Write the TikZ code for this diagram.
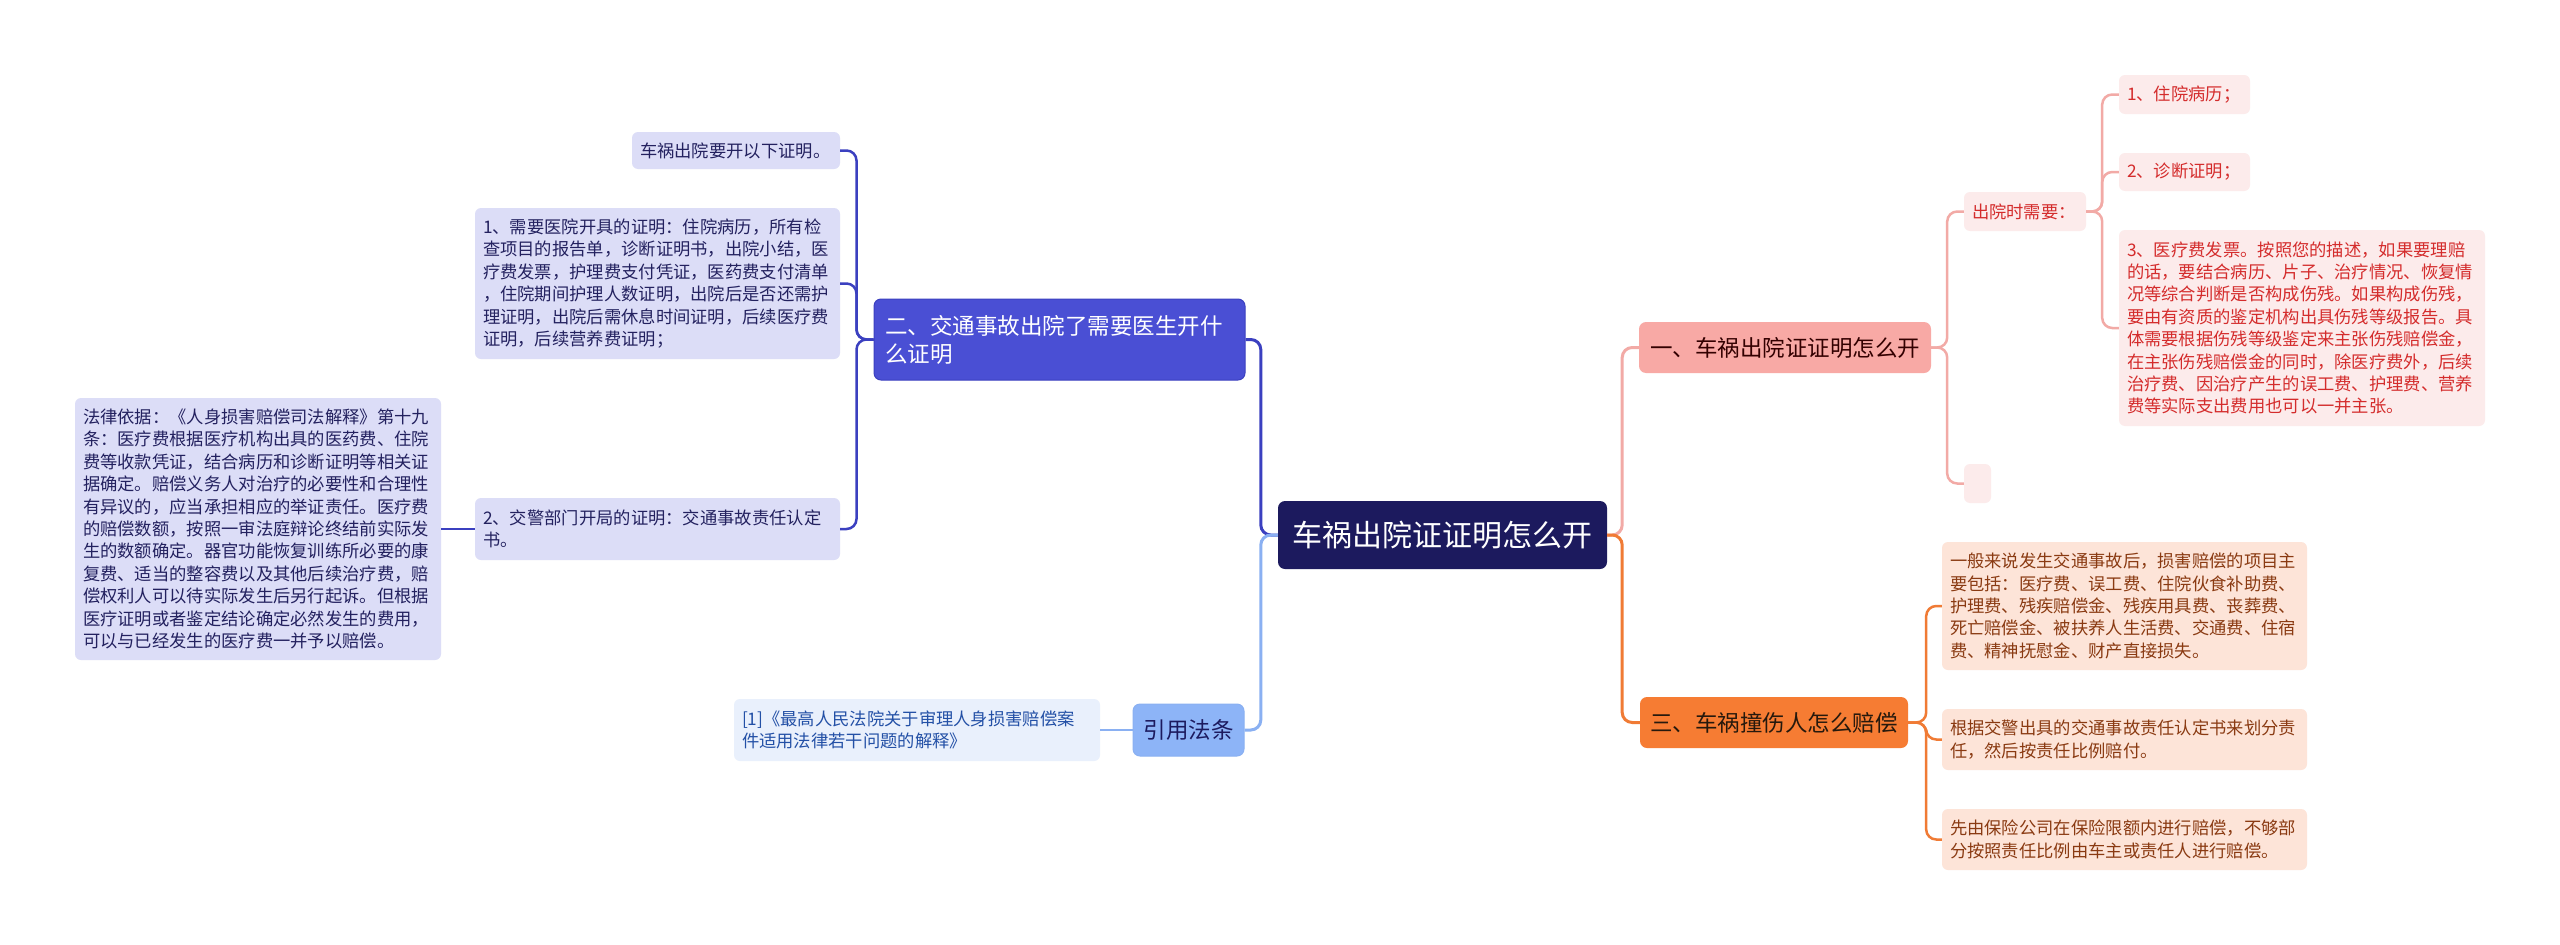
\documentclass[tikz,border=0pt]{standalone}
\usepackage{fontspec}
\setmainfont{Noto Sans CJK SC}
\usetikzlibrary{calc}
\definecolor{cCenter}{HTML}{1C1A5E}
\definecolor{cBlue}{HTML}{4A4FD4}
\definecolor{cBlueLine}{HTML}{3B40C0}
\definecolor{cBlueFill}{HTML}{DCDDF7}
\definecolor{cBlueText}{HTML}{23215F}
\definecolor{cLB}{HTML}{8DB4F7}
\definecolor{cLBLine}{HTML}{8AB0F2}
\definecolor{cLBFill}{HTML}{E9F0FC}
\definecolor{cLBText}{HTML}{2350A6}
\definecolor{cPink}{HTML}{F8A9A5}
\definecolor{cPinkLine}{HTML}{F2AAA6}
\definecolor{cPinkFill}{HTML}{FCEBEB}
\definecolor{cPinkText}{HTML}{D42C2C}
\definecolor{cOrange}{HTML}{F67C33}
\definecolor{cOrangeLine}{HTML}{F07B35}
\definecolor{cOrangeFill}{HTML}{FDE4D8}
\definecolor{cOrangeText}{HTML}{8A3A12}
\tikzset{
  x=1pt, y=-1pt,
  small/.style={font=\fontsize{17.3}{22.4}\selectfont},
  big/.style={font=\fontsize{22.5}{28}\selectfont},
  childbox/.style={small, rounded corners=6, inner xsep=8pt, inner ysep=0pt, align=left, anchor=center},
  mainbox/.style={big, rounded corners=7, inner sep=0pt, align=center, anchor=center},
  link/.style={line width=2.5pt, rounded corners=10},
  mainlink/.style={line width=3pt, rounded corners=10},
}
\begin{document}
\begin{tikzpicture}
\useasboundingbox[fill=white] (0,0) rectangle (2560,945);

% central node
\node[mainbox, font=\fontsize{30}{36}\selectfont, fill=cCenter, text=white, minimum width=329pt, minimum height=68pt] (C) at (1442.5,535) {车祸出院证证明怎么开};

% branch two (blue)
\node[big, rounded corners=7, inner xsep=11pt, inner ysep=0pt, align=left, fill=cBlue, draw=cBlueLine, line width=1pt, text=white, text width=349pt, minimum height=81pt, anchor=center] (B2) at (1059.5,339.5) {二、交通事故出院了需要医生开什\\么证明};
\node[childbox, fill=cBlueFill, text=cBlueText, text width=192pt, minimum height=37pt] (b2a) at (736,150.5) {车祸出院要开以下证明。};
\node[childbox, fill=cBlueFill, text=cBlueText, text width=349pt, minimum height=151pt] (b2b) at (657.5,283.5) {1、需要医院开具的证明：住院病历，所有检\\查项目的报告单，诊断证明书，出院小结，医\\疗费发票，护理费支付凭证，医药费支付清单\\，住院期间护理人数证明，出院后是否还需护\\理证明，出院后需休息时间证明，后续医疗费\\证明，后续营养费证明；};
\node[childbox, fill=cBlueFill, text=cBlueText, text width=349pt, minimum height=62pt] (b2c) at (657.5,529) {2、交警部门开局的证明：交通事故责任认定\\书。};
\node[childbox, fill=cBlueFill, text=cBlueText, text width=350pt, minimum height=262pt] (law) at (258,529) {法律依据：《人身损害赔偿司法解释》第十九\\条：医疗费根据医疗机构出具的医药费、住院\\费等收款凭证，结合病历和诊断证明等相关证\\据确定。赔偿义务人对治疗的必要性和合理性\\有异议的，应当承担相应的举证责任。医疗费\\的赔偿数额，按照一审法庭辩论终结前实际发\\生的数额确定。器官功能恢复训练所必要的康\\复费、适当的整容费以及其他后续治疗费，赔\\偿权利人可以待实际发生后另行起诉。但根据\\医疗证明或者鉴定结论确定必然发生的费用，\\可以与已经发生的医疗费一并予以赔偿。};

% citation branch (light blue)
\node[mainbox, fill=cLB, draw=cLBLine, line width=1pt, text=cCenter, minimum width=111pt, minimum height=52pt] (Y) at (1188.5,730) {引用法条};
\node[childbox, fill=cLBFill, text=cLBText, text width=350pt, minimum height=62pt] (ref) at (917,730) {[1]《最高人民法院关于审理人身损害赔偿案\\件适用法律若干问题的解释》};

% branch one (pink)
\node[mainbox, fill=cPink, text=black!80!red, minimum width=292pt, minimum height=51pt] (B1) at (1785,347.5) {一、车祸出院证证明怎么开};
\node[childbox, fill=cPinkFill, text=cPinkText, text width=106pt, minimum height=39pt] (p0) at (2025,211.5) {出院时需要：};
\node[childbox, fill=cPinkFill, text=cPinkText, text width=115pt, minimum height=39pt] (p1) at (2184.5,94.5) {1、住院病历；};
\node[childbox, fill=cPinkFill, text=cPinkText, text width=115pt, minimum height=38pt] (p2) at (2184.5,172) {2、诊断证明；};
\node[childbox, fill=cPinkFill, text=cPinkText, text width=350pt, minimum height=196pt] (p3) at (2302,328) {3、医疗费发票。按照您的描述，如果要理赔\\的话，要结合病历、片子、治疗情况、恢复情\\况等综合判断是否构成伤残。如果构成伤残，\\要由有资质的鉴定机构出具伤残等级报告。具\\体需要根据伤残等级鉴定来主张伤残赔偿金，\\在主张伤残赔偿金的同时，除医疗费外，后续\\治疗费、因治疗产生的误工费、护理费、营养\\费等实际支出费用也可以一并主张。};
\node[rounded corners=6, fill=cPinkFill, inner sep=0pt, minimum width=27pt, minimum height=39pt, anchor=center] (pe) at (1977.5,483.5) {};

% branch three (orange)
\node[mainbox, fill=cOrange, text=black!80!brown, minimum width=268pt, minimum height=51pt] (B3) at (1774,722.5) {三、车祸撞伤人怎么赔偿};
\node[childbox, fill=cOrangeFill, text=cOrangeText, text width=349pt, minimum height=128pt] (oA) at (2124.5,606) {一般来说发生交通事故后，损害赔偿的项目主\\要包括：医疗费、误工费、住院伙食补助费、\\护理费、残疾赔偿金、残疾用具费、丧葬费、\\死亡赔偿金、被扶养人生活费、交通费、住宿\\费、精神抚慰金、财产直接损失。};
\node[childbox, fill=cOrangeFill, text=cOrangeText, text width=349pt, minimum height=61pt] (oB) at (2124.5,739.5) {根据交警出具的交通事故责任认定书来划分责\\任，然后按责任比例赔付。};
\node[childbox, fill=cOrangeFill, text=cOrangeText, text width=349pt, minimum height=61pt] (oC) at (2124.5,839.5) {先由保险公司在保险限额内进行赔偿，不够部\\分按照责任比例由车主或责任人进行赔偿。};

% connectors from center
\draw[mainlink, cBlueLine] (C.west) -- ++(-17,0) |- (B2.east);
\draw[mainlink, cLBLine] (C.west) -- ++(-17,0) |- (Y.east);
\draw[mainlink, cPinkLine] (C.east) -- ++(15,0) |- (B1.west);
\draw[mainlink, cOrangeLine] (C.east) -- ++(15,0) |- (B3.west);

% blue children
\foreach \t in {b2a,b2b,b2c}
  \draw[link, cBlueLine] (B2.west) -- ++(-17,0) |- (\t.east);
\draw[link, cBlueLine] (b2c.west) -- (law.east);

% citation
\draw[link, cLBLine] (Y.west) -- (ref.east);

% pink children
\foreach \t in {p0,pe}
  \draw[link, cPinkLine] (B1.east) -- ++(16,0) |- (\t.west);
\foreach \t in {p1,p2,p3}
  \draw[link, cPinkLine] (p0.east) -- ++(16,0) |- (\t.west);

% orange children
\foreach \t in {oA,oB,oC}
  \draw[link, cOrangeLine] (B3.east) -- ++(18,0) |- (\t.west);
\end{tikzpicture}
\end{document}
